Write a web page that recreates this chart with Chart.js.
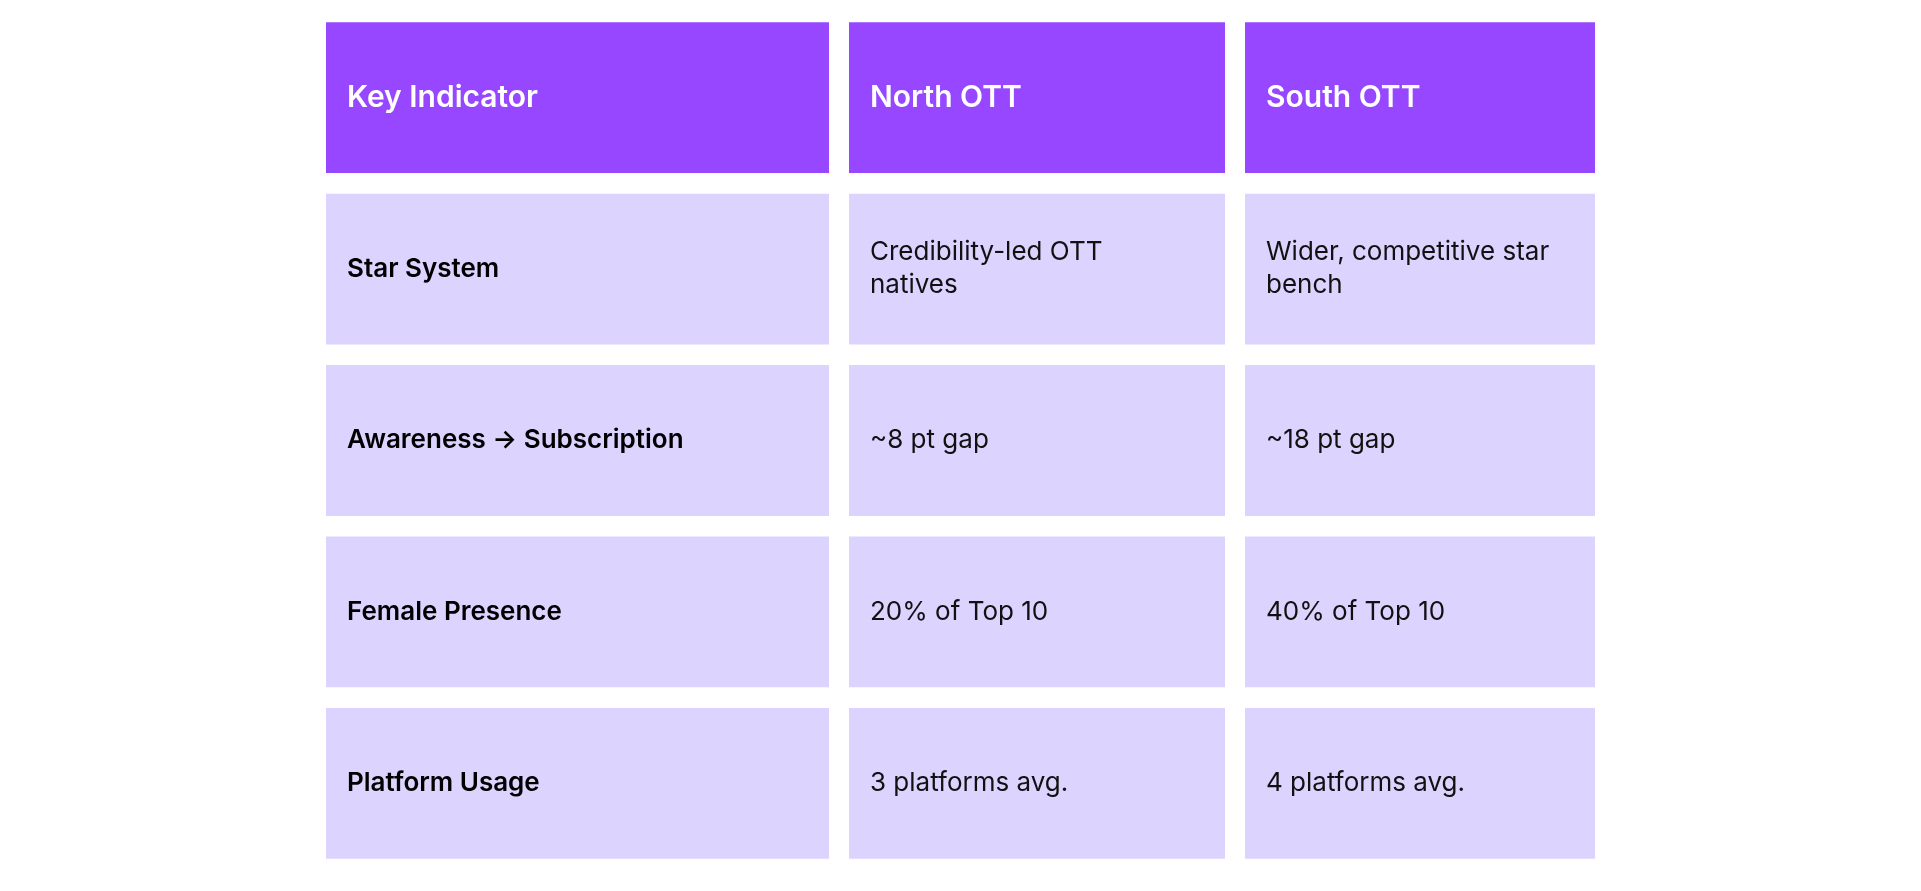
<!DOCTYPE html>
<html>
<head>
<meta charset="utf-8">
<script src="https://cdn.jsdelivr.net/npm/chart.js@4"></script>
<style>
  html,body{margin:0;padding:0;background:#fff;}
  .wrap{width:1921px;height:891px;}
</style>
</head>
<body>
<div class="wrap"><canvas id="table-chart"></canvas></div>
<script>
// table contents
const rows = ['header', 'Star System', 'Awareness → Subscription', 'Female Presence', 'Platform Usage'];
const headers = ['Key Indicator', 'North OTT', 'South OTT'];
const northOTT = ['Credibility-led OTT\nnatives', '~8 pt gap', '20% of Top 10', '3 platforms avg.'];
const southOTT = ['Wider, competitive star\nbench', '~18 pt gap', '40% of Top 10', '4 platforms avg.'];

// column layout (pixels along the x scale)
const colEdges = [[326, 829], [849, 1225], [1245, 1595]];

const texts = [
  [headers[0], ...rows.slice(1)],
  [headers[1], ...northOTT],
  [headers[2], ...southOTT]
];

const headColor = '#9747ff';
const bodyColor = '#dcd3fe';

const datasets = colEdges.map((edge, c) => ({
  label: headers[c],
  data: rows.map(() => edge),
  backgroundColor: rows.map((r, i) => i == 0 ? headColor : bodyColor),
  borderWidth: 0,
  grouped: false,
  barPercentage: 0.88,
  categoryPercentage: 1
}));

const cellText = {
  id: 'cellText',
  afterDatasetsDraw(chart) {
    const ctx = chart.ctx;
    ctx.save();
    ctx.textBaseline = 'middle';
    chart.data.datasets.forEach((ds, c) => {
      chart.getDatasetMeta(c).data.forEach((bar, r) => {
        const t = texts[c][r];
        const lines = t.split('\n');
        if (r == 0) {
          ctx.fillStyle = '#ffffff';
          ctx.font = '600 30px Inter';
        } else if (c == 0) {
          ctx.fillStyle = '#000000';
          ctx.font = '600 26px Inter';
        } else {
          ctx.fillStyle = '#111111';
          ctx.font = '400 26px Inter';
        }
        const x = bar.base + 21;
        const lh = 33;
        const y0 = bar.y - (lines.length - 1) * lh / 2;
        lines.forEach((l, i) => ctx.fillText(l, x, y0 + i * lh));
      });
    });
    ctx.restore();
  }
};

new Chart(document.getElementById('table-chart'), {
  type: 'bar',
  data: { labels: rows, datasets },
  options: {
    indexAxis: 'y',
    responsive: true,
    maintainAspectRatio: false,
    animation: false,
    layout: { padding: { top: 12, bottom: 22, left: 0, right: 0 } },
    scales: {
      x: { type: 'linear', min: 0, max: 1921, display: false },
      y: { display: false }
    },
    plugins: {
      legend: { display: false },
      tooltip: { enabled: false }
    }
  },
  plugins: [cellText]
});
</script>
</body>
</html>
